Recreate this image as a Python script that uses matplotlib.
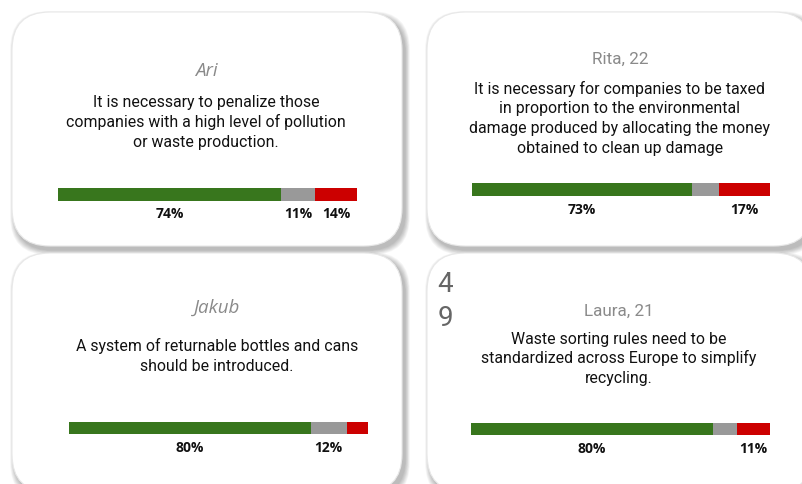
import matplotlib
matplotlib.use('Agg')
import matplotlib.pyplot as plt
from matplotlib.patches import FancyBboxPatch


# Survey answers: agree / neutral / disagree, in percent
names = ["Ari", "Rita, 22", "Jakub", "Laura, 21"]
name_italic = [True, False, True, False]
statements = [
    ["It is necessary to penalize those",
     "companies with a high level of pollution",
     "or waste production."],
    ["It is necessary for companies to be taxed",
     "in proportion to the environmental",
     "damage produced by allocating the money",
     "obtained to clean up damage"],
    ["A system of returnable bottles and cans",
     "should be introduced."],
    ["Waste sorting rules need to be",
     "standardized across Europe to simplify",
     "recycling."],
]
agree = [74, 73, 80, 80]
neutral = [11, 9, 12, 8]
disagree = [14, 17, 7, 11]
page_number = ["4", "9"]

colors = ["#38761d", "#999999", "#cc0000"]

# Layout in pixels (x0, y0, x1, y1), y grows downwards
W, H = 803, 484
cards = [(12, 12, 402, 246), (427, 12, 812, 246),
         (12, 253, 402, 492), (427, 253, 812, 492)]
bars = [(58, 188, 357, 201), (472, 183, 770, 196),
        (69, 422, 368, 434), (471, 423, 770, 435)]
text_x = [206, 620, 217, 619]
name_y = [76.5, 64, 312.5, 315.5]
line_y = [[107, 127, 147], [94, 113.5, 133, 152.5],
          [351.5, 371], [344, 363.5, 383]]

fig = plt.figure(figsize=(W / 100, H / 100), dpi=100)
bg = fig.add_axes([0, 0, 1, 1])
bg.set_xlim(0, W)
bg.set_ylim(H, 0)
bg.axis('off')


# Rounded white card with a soft shadow to the lower right
def draw_card(x0, y0, x1, y1):
    for i in range(8, 0, -1):
        bg.add_patch(FancyBboxPatch((x0 + 3, y0 + 4), x1 - x0, y1 - y0,
                                    boxstyle="round,pad=%.1f,rounding_size=38" % (i * 0.6),
                                    fc='black', ec='none', alpha=0.035))
    bg.add_patch(FancyBboxPatch((x0, y0), x1 - x0, y1 - y0,
                                boxstyle="round,pad=0,rounding_size=38",
                                fc='white', ec='#e8e8e8', lw=0.8))


# Stacked 100% bar, labels under segments of 10% or more
def draw_bar(values, box):
    left, top, right, bottom = box
    ax = fig.add_axes([left / W, 1 - bottom / H, (right - left) / W, (bottom - top) / H])
    start = 0
    for v, c in zip(values, colors):
        ax.barh(0, v, left=start, height=1, color=c, linewidth=0)
        if v >= 10:
            ax.annotate("%d%%" % v, (start + v / 2, 0), xytext=(0, -24),
                        textcoords='offset pixels', ha='center', va='baseline',
                        fontsize=10, fontweight='bold', family=['Open Sans', 'DejaVu Sans'],
                        color='#111111')
        start += v
    ax.set_xlim(0, start)
    ax.set_ylim(-0.5, 0.5)
    ax.axis('off')


for i in range(4):
    draw_card(*cards[i])
    bg.text(text_x[i], name_y[i], names[i], ha='center', va='baseline',
            fontsize=13.5 if name_italic[i] else 12.3,
            style='italic' if name_italic[i] else 'normal',
            family=['Open Sans' if name_italic[i] else 'Roboto', 'DejaVu Sans'],
            color='#8a8a8a')
    for line, y in zip(statements[i], line_y[i]):
        bg.text(text_x[i], y, line, ha='center', va='baseline', fontsize=11.4,
                family=['Roboto', 'DejaVu Sans'], color='#111111')
    draw_bar([agree[i], neutral[i], disagree[i]], bars[i])

for digit, y in zip(page_number, [291.5, 326]):
    bg.text(445, y, digit, ha='center', va='baseline', fontsize=20,
            family=['Roboto', 'DejaVu Sans'], color='#666666')

fig.savefig("out.png", dpi=100, facecolor='white')
